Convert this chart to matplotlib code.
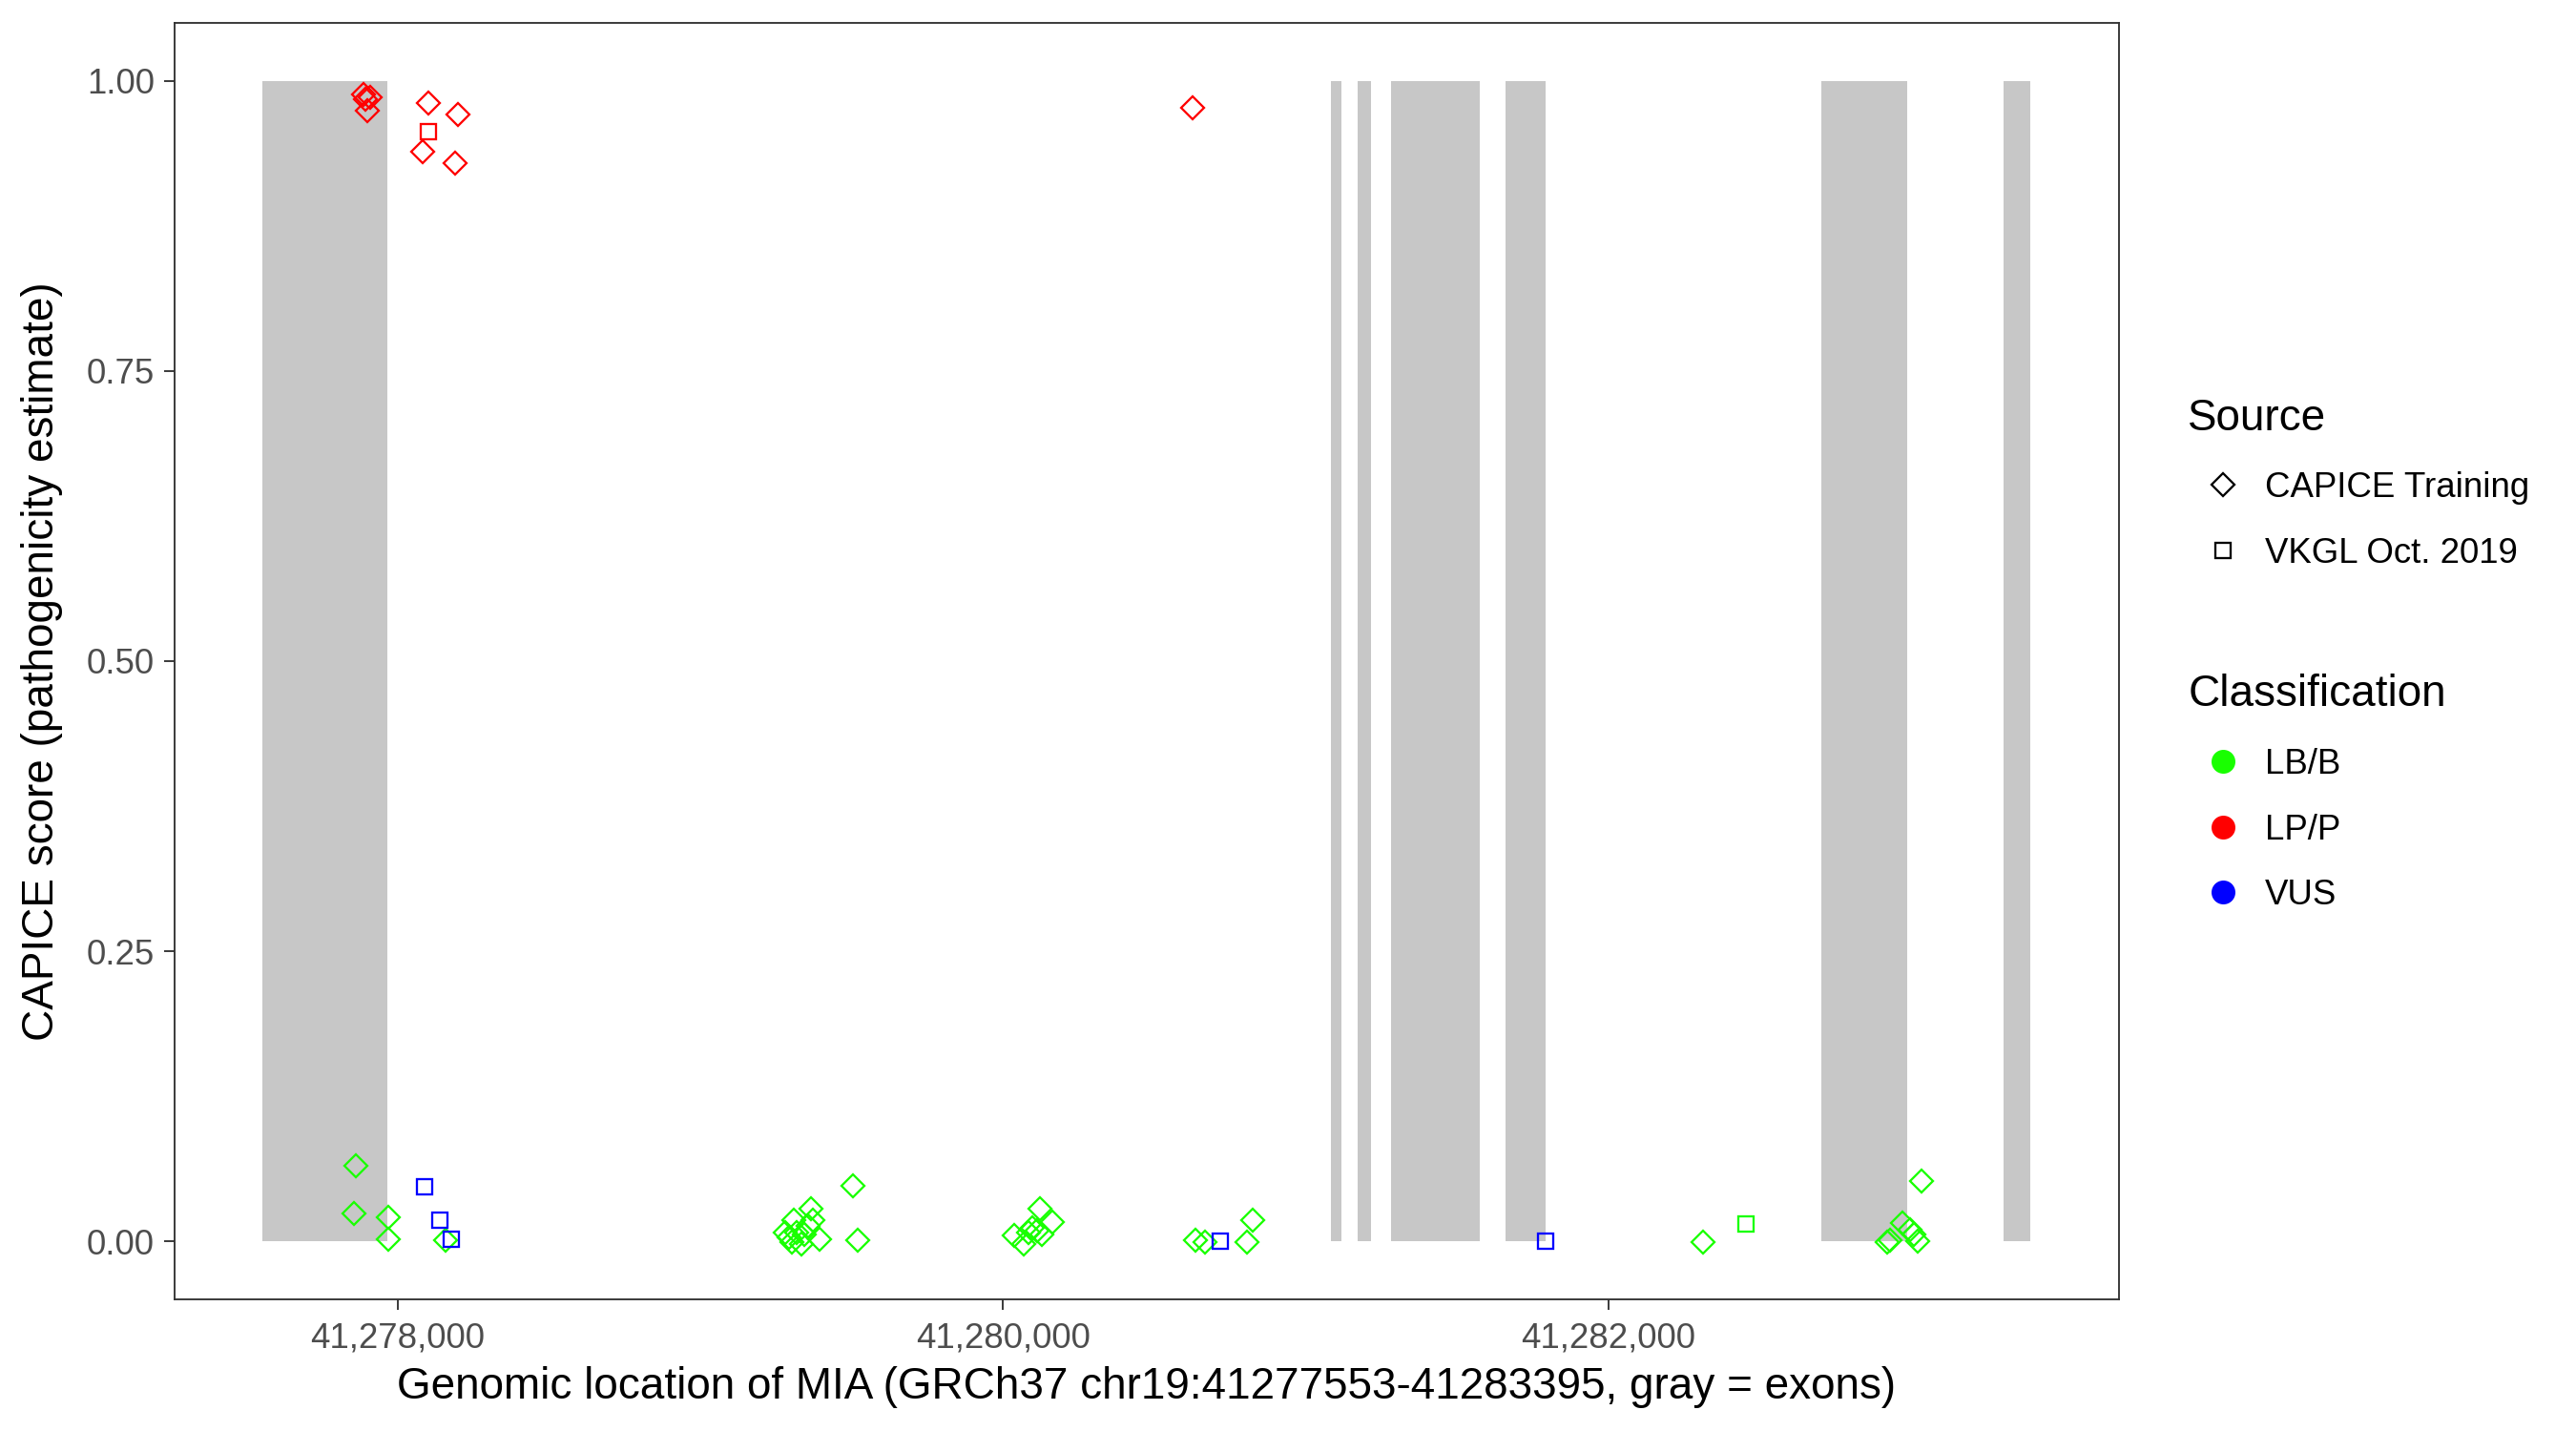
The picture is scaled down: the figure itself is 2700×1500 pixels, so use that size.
import numpy as np
import matplotlib
matplotlib.use("Agg")
import matplotlib.pyplot as plt
from matplotlib.lines import Line2D
from matplotlib.ticker import FuncFormatter

plt.rcParams['font.family'] = ['Liberation Sans', 'DejaVu Sans']

# exons of MIA (gray blocks)
exon_start = [41277553, 41281084, 41281172, 41281282, 41281660, 41282704, 41283306]
exon_end = [41277966, 41281118, 41281216, 41281575, 41281793, 41282988, 41283395]

# CAPICE training variants (diamonds)
capice_lpp_pos = [41277887, 41277908, 41277894, 41277899, 41278101, 41278199,
                  41278081, 41278189, 41280626]
capice_lpp_score = [0.988, 0.986, 0.984, 0.974, 0.981, 0.971, 0.939, 0.929, 0.977]

capice_lbb_pos = [41277862, 41277856, 41277968, 41277970, 41278157,
                  41279308, 41279365, 41279371, 41279355, 41279281, 41279292,
                  41279302, 41279334, 41279392, 41279318, 41279344, 41279504,
                  41279520,
                  41280122, 41280162, 41280096, 41280112, 41280038, 41280069,
                  41280127, 41280085,
                  41280637, 41280668, 41280826, 41280807,
                  41282312,
                  41283033, 41282973, 41282996, 41283010, 41283022, 41282920,
                  41282930]
capice_lbb_score = [0.065, 0.024, 0.021, 0.0015, 0.0007,
                    0.018, 0.028, 0.018, 0.013, 0.0075, 0.0034,
                    -0.001, -0.002, 0.002, 0.0075, 0.006, 0.048,
                    0.0007,
                    0.028, 0.017, 0.012, 0.009, 0.005, -0.002,
                    0.006, 0.0075,
                    0.0007, -0.001, 0.018, -0.001,
                    -0.001,
                    0.052, 0.016, 0.010, 0.006, 0.0, -0.001,
                    0.001]

# VKGL Oct. 2019 variants (squares)
vkgl_lpp_pos = [41278101]
vkgl_lpp_score = [0.956]
vkgl_lbb_pos = [41282453]
vkgl_lbb_score = [0.015]
vkgl_vus_pos = [41278089, 41278138, 41278178, 41280719, 41281792]
vkgl_vus_score = [0.047, 0.018, 0.002, 0.0, 0.0]

col_lbb = '#19FF00'
col_lpp = '#FF0000'
col_vus = '#0000FF'
exon_col = '#C7C7C7'

fig = plt.figure(figsize=(9, 5), dpi=300)
ax = fig.add_axes([0.0676, 0.092, 0.755, 0.892])

# exons
for s, e in zip(exon_start, exon_end):
    ax.fill_between([s, e], 0, 1, color=exon_col, lw=0, zorder=1)

mk = dict(linestyle='none', markerfacecolor='none', markeredgewidth=0.55, zorder=3)
ax.plot(capice_lbb_pos, capice_lbb_score, marker='D', ms=4.0, markeredgecolor=col_lbb, **mk)
ax.plot(capice_lpp_pos, capice_lpp_score, marker='D', ms=4.0, markeredgecolor=col_lpp, **mk)
ax.plot(vkgl_lbb_pos, vkgl_lbb_score, marker='s', ms=4.0, markeredgecolor=col_lbb, **mk)
ax.plot(vkgl_lpp_pos, vkgl_lpp_score, marker='s', ms=4.0, markeredgecolor=col_lpp, **mk)
ax.plot(vkgl_vus_pos, vkgl_vus_score, marker='s', ms=4.0, markeredgecolor=col_vus, **mk)

# ggplot-like 5% expansion
lo, hi = min(exon_start), max(exon_end)
pad = 0.05 * (hi - lo)
ax.set_xlim(lo - pad, hi + pad)
ax.set_ylim(-0.05, 1.05)

ax.set_xticks([41278000, 41280000, 41282000])
ax.xaxis.set_major_formatter(FuncFormatter(lambda v, p: f"{int(v):,}"))
ax.set_yticks([0, 0.25, 0.5, 0.75, 1.0])
ax.yaxis.set_major_formatter(FuncFormatter(lambda v, p: f"{v:.2f}"))
ax.tick_params(length=2.75, width=0.45, color='#333333', labelcolor='#4D4D4D',
               labelsize=8.8, pad=2.2)
ax.tick_params(axis='x', pad=3.0)
for sp in ax.spines.values():
    sp.set_linewidth(0.45)
    sp.set_color('#333333')

ax.set_xlabel("Genomic location of MIA (GRCh37 chr19:41277553-41283395, gray = exons)",
              fontsize=11, labelpad=2.7)
ax.set_ylabel("CAPICE score (pathogenicity estimate)", fontsize=11, labelpad=6)

# legends
leg_kw = dict(loc='upper left', frameon=False, fontsize=8.8, title_fontsize=11,
              alignment='left', borderpad=0, handlelength=2.0, handletextpad=0.2,
              labelspacing=0.92, numpoints=1)

src_handles = [
    Line2D([], [], marker='D', ms=4.0, mfc='none', mec='black', mew=0.55, ls='none'),
    Line2D([], [], marker='s', ms=4.0, mfc='none', mec='black', mew=0.55, ls='none'),
]
leg1 = fig.legend(src_handles, ['CAPICE Training', 'VKGL Oct. 2019'], title='Source',
                  bbox_to_anchor=(0.8426, 0.7345), **leg_kw)

cls_handles = [
    Line2D([], [], marker='o', ms=5, mfc=c, mec=c, ls='none')
    for c in (col_lbb, col_lpp, col_vus)
]
leg2 = fig.legend(cls_handles, ['LB/B', 'LP/P', 'VUS'], title='Classification',
                  bbox_to_anchor=(0.8426, 0.5415), **leg_kw)

fig.savefig('out.png', dpi=300)
